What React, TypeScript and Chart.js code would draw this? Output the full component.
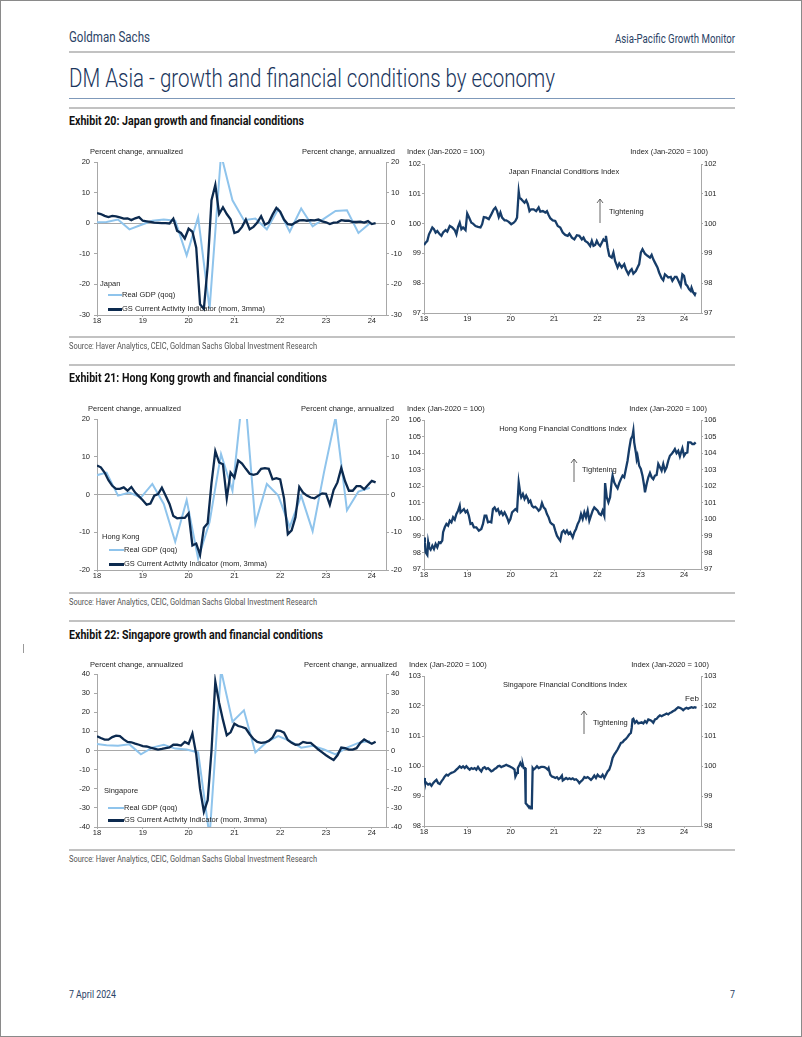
import React, { useEffect, useLayoutEffect, useRef } from "react";
import { Chart, registerables } from "chart.js";

Chart.register(...registerables);

// ---------------- DATA ----------------
const yearTicks = [2018, 2019, 2020, 2021, 2022, 2023, 2024];

// Quarterly real GDP (qoq saar), Q4-2017 .. Q4-2023
const jpGdp = [0.3, 0.4, 1.2, -2.0, -0.6, 0.8, 1.2, 0.8, -10.5, 2.0, -28.0, 22.5, 7.5, 1.0, 1.5, -2.0, 4.6, -2.8, 4.8, -1.0, 1.5, 4.0, 4.2, -3.2, 0.0];
const hkGdp = [5.0, 5.8, -0.3, 0.5, -0.8, 2.8, -2.5, -12.5, -1.5, -17.0, -7.3, 10.7, 1.0, 30.0, -7.7, 2.8, -0.3, -8.6, -0.3, -9.7, 6.0, 20.4, -4.2, 0.8, 1.8];
const sgGdp = [3.5, 2.8, 2.5, 3.2, -2.0, 1.5, 3.0, 1.0, 0.5, -1.0, -45.0, 42.0, 15.0, 21.0, -1.0, 4.5, 7.5, 5.0, 1.5, 2.5, 0.5, -2.0, 1.5, 4.0, 5.0];

// Monthly GS Current Activity Indicator (mom, 3mma), Jan-2018 .. Feb-2024
const jpCai = [3.3, 3.0, 2.4, 2.0, 2.4, 2.2, 1.9, 1.5, 1.6, 1.0, 1.6, 2.0, 0.8, 0.6, 0.4, 0.2, 0.1, 0.0, 0.0, -0.1, 1.5, -2.5, -3.2, -5.0, -1.8, -2.8, -8.0, -26.5, -28.0, -14.0, 7.5, 12.5, 3.0, 5.2, 3.0, 1.3, -3.2, -2.7, -1.2, 1.2, -2.0, -1.2, 0.2, 2.3, -0.5, 0.2, 2.8, 5.0, 3.8, 1.2, -0.3, -0.5, 0.2, 0.9, 1.0, 0.8, 1.0, 0.9, 1.2, 0.6, 0.3, -0.3, 0.2, 0.3, 1.0, 0.8, 0.8, 0.4, 0.4, 0.5, 0.2, 0.7, -0.3, 0.0];
const hkCai = [7.7, 7.2, 5.8, 3.8, 2.3, 1.5, 1.5, 1.9, 1.0, 2.0, 0.5, -0.5, -1.5, -2.7, -2.4, -0.3, 0.1, 1.8, -0.3, -2.5, -5.7, -6.3, -6.2, -6.2, -5.0, -13.5, -13.0, -16.0, -8.8, -7.6, 3.0, 11.5, 8.5, 8.0, -1.0, 5.8, 4.5, 9.0, 8.2, 6.8, 5.5, 5.2, 5.5, 6.8, 7.0, 6.8, 4.0, 4.3, 4.0, -1.0, -10.5, -9.5, -6.0, 2.0, 0.5, -0.3, -0.8, -1.0, -0.3, 0.3, 0.2, -2.7, 1.2, 3.2, 7.0, 3.5, 1.0, 1.0, 2.2, 2.2, 1.4, 2.5, 3.6, 3.2];
const sgCai = [7.5, 6.5, 5.7, 5.7, 7.0, 7.8, 7.5, 5.8, 4.5, 4.3, 3.6, 3.0, 2.3, 2.1, 1.5, 1.0, 0.5, 0.8, 1.3, 1.6, 3.0, 3.0, 2.6, 4.5, 3.5, 8.9, -2.0, -20.0, -32.0, -26.0, 0.0, 36.0, 25.0, 16.0, 8.0, 9.5, 14.0, 12.8, 12.3, 11.5, 8.5, 6.0, 4.5, 4.0, 4.2, 5.0, 6.8, 10.5, 10.3, 9.3, 5.5, 4.0, 3.0, 3.2, 4.5, 4.0, 4.0, 2.3, 0.5, -1.0, -2.5, -3.8, -5.0, -2.5, 1.5, 1.2, 0.5, 0.5, 1.2, 4.0, 5.8, 4.6, 3.5, 4.6];

// Financial conditions indices: observation week (weeks since 1-Jan-2018) and value
const jpFciWeeks = [0, 2, 4, 6, 8, 10, 12, 14, 16, 19, 21, 23, 26, 28, 31, 34, 37, 39, 41, 43, 45, 47, 50, 52, 54, 57, 59, 62, 65, 68, 70, 72, 75, 78, 81, 84, 86, 88, 90, 92, 94, 97, 99, 102, 105, 108, 110, 112, 114, 115, 117, 119, 121, 123, 125, 127, 129, 132, 135, 138, 140, 143, 146, 148, 150, 152, 155, 158, 161, 164, 167, 170, 173, 175, 178, 181, 184, 187, 190, 192, 194, 197, 200, 202, 204, 206, 208, 210, 212, 214, 216, 218, 219, 221, 223, 226, 228, 230, 233, 235, 238, 241, 243, 246, 248, 250, 252, 255, 257, 259, 261, 263, 266, 269, 272, 274, 276, 278, 281, 283, 286, 288, 290, 292, 294, 297, 299, 302, 304, 306, 309, 311, 313, 315, 317, 319, 321, 322, 324, 326, 327];
const jpFci = [99.28, 99.36, 99.42, 99.64, 99.75, 99.87, 99.81, 99.70, 99.75, 99.64, 99.59, 99.70, 99.78, 99.73, 99.92, 99.87, 99.78, 99.64, 99.89, 100.03, 99.81, 99.87, 99.78, 100.34, 100.22, 100.03, 100.0, 99.92, 99.89, 99.87, 99.98, 100.22, 100.2, 100.15, 100.31, 100.48, 100.54, 100.42, 100.22, 100.37, 100.2, 100.11, 100.11, 100.06, 99.98, 100.03, 100.09, 100.2, 101.07, 100.87, 100.82, 100.76, 100.7, 100.78, 100.65, 100.42, 100.48, 100.48, 100.42, 100.54, 100.4, 100.42, 100.37, 100.42, 100.29, 100.18, 100.11, 100.09, 99.92, 99.87, 99.70, 99.62, 99.59, 99.66, 99.53, 99.47, 99.61, 99.59, 99.47, 99.53, 99.42, 99.36, 99.25, 99.42, 99.25, 99.28, 99.42, 99.31, 99.25, 99.36, 99.47, 99.42, 99.59, 99.2, 98.92, 98.86, 99.03, 98.75, 98.53, 98.66, 98.53, 98.64, 98.47, 98.30, 98.41, 98.47, 98.32, 98.41, 98.53, 98.64, 99.03, 99.14, 98.99, 98.92, 98.86, 98.95, 98.8, 98.69, 98.53, 98.36, 98.17, 98.1, 98.3, 98.25, 98.19, 98.21, 98.08, 98.21, 98.21, 98.1, 97.91, 98.3, 98.25, 97.97, 97.91, 97.8, 97.74, 97.85, 97.69, 97.61, 97.69];

const hkFciWeeks = [0, 1, 2, 4, 5, 6, 8, 10, 12, 14, 16, 18, 20, 22, 23, 25, 27, 29, 31, 33, 35, 37, 39, 41, 43, 44, 46, 48, 50, 52, 54, 56, 58, 60, 63, 66, 69, 71, 73, 75, 77, 79, 81, 83, 85, 87, 89, 91, 93, 95, 97, 99, 101, 102, 104, 106, 108, 110, 112, 114, 116, 117, 119, 121, 123, 125, 126, 128, 130, 132, 134, 136, 138, 140, 142, 144, 146, 148, 150, 152, 154, 156, 158, 160, 162, 164, 166, 168, 170, 172, 174, 176, 178, 179, 181, 183, 185, 187, 189, 191, 193, 195, 197, 199, 201, 203, 205, 207, 209, 210, 211, 213, 215, 217, 218, 220, 222, 224, 226, 227, 229, 231, 233, 235, 237, 239, 241, 243, 245, 247, 249, 251, 252, 253, 255, 256, 257, 259, 261, 263, 265, 266, 268, 270, 272, 274, 276, 278, 280, 282, 284, 286, 288, 290, 292, 294, 296, 298, 300, 302, 304, 306, 308, 310, 311, 313, 315, 317, 318, 321, 323, 325, 327];
const hkFci = [98.91, 98.61, 98.0, 97.85, 98.61, 98.31, 98.17, 98.41, 98.21, 98.51, 98.31, 98.61, 98.57, 98.71, 99.22, 99.52, 99.72, 99.62, 99.92, 99.82, 100.12, 99.98, 100.32, 100.52, 100.82, 100.42, 100.52, 100.62, 100.42, 100.52, 100.22, 99.72, 99.76, 99.52, 99.52, 99.32, 99.42, 99.72, 100.22, 100.22, 99.82, 99.86, 99.82, 100.62, 100.72, 100.52, 100.62, 100.32, 100.46, 100.26, 100.42, 100.22, 99.98, 99.82, 100.02, 100.42, 100.52, 100.62, 100.52, 102.23, 101.53, 101.33, 101.53, 101.23, 101.43, 101.23, 101.03, 101.13, 100.82, 100.72, 100.76, 100.66, 100.52, 100.62, 100.99, 100.72, 100.62, 100.32, 100.12, 99.82, 99.72, 99.66, 99.32, 99.01, 98.85, 98.71, 99.22, 99.32, 99.17, 99.32, 99.11, 99.22, 99.01, 98.91, 99.22, 99.42, 99.72, 99.92, 100.32, 100.02, 100.42, 100.12, 100.52, 99.92, 100.22, 100.52, 100.72, 100.62, 100.52, 100.42, 100.32, 100.26, 100.52, 100.22, 102.19, 101.33, 101.03, 101.33, 102.33, 102.64, 102.23, 102.03, 101.87, 102.19, 102.43, 102.64, 102.54, 103.04, 103.54, 104.25, 104.85, 105.05, 105.35, 104.65, 104.04, 103.64, 103.84, 103.24, 103.04, 102.64, 102.03, 101.63, 102.13, 102.54, 102.8, 102.54, 102.43, 102.64, 102.68, 103.34, 103.14, 102.94, 103.34, 102.94, 103.14, 103.54, 103.84, 103.94, 104.08, 104.25, 104.0, 104.14, 103.8, 104.14, 104.29, 103.84, 104.0, 104.04, 104.65, 104.65, 104.55, 104.55, 104.65];

const sgFciWeeks = [0, 1, 3, 5, 7, 9, 11, 13, 15, 17, 19, 21, 23, 25, 27, 29, 31, 33, 35, 37, 39, 41, 43, 45, 47, 49, 51, 53, 55, 57, 59, 61, 63, 65, 67, 69, 71, 73, 75, 77, 79, 81, 83, 85, 87, 89, 91, 93, 95, 97, 99, 101, 103, 105, 107, 109, 110, 112, 113, 115, 116, 118, 119, 120, 121.6, 122.4, 124, 125, 127, 128, 129, 129.8, 130.8, 132, 134, 136, 138, 141, 143, 145, 147, 149, 150, 152, 154, 156, 158, 160, 162, 164, 166, 167, 169, 171, 173, 175, 177, 179, 181, 183, 185, 187, 189, 191, 193, 195, 197, 199, 201, 203, 205, 207, 209, 211, 213, 215, 217, 219, 221, 223, 225, 227, 229, 231, 233, 235, 237, 239, 241, 243, 245, 247, 249, 250, 251, 252, 254, 256, 258, 260, 262, 264, 266, 268, 270, 272, 274, 276, 278, 280, 282, 284, 286, 288, 290, 292, 294, 296, 298, 300, 302, 304, 306, 308, 310, 312, 314, 316, 318, 320, 322, 324, 326, 328];
const sgFci = [99.6, 99.49, 99.43, 99.38, 99.41, 99.34, 99.43, 99.49, 99.54, 99.43, 99.40, 99.49, 99.56, 99.65, 99.71, 99.68, 99.74, 99.77, 99.79, 99.82, 99.88, 99.93, 99.99, 99.94, 99.99, 99.93, 99.99, 99.93, 99.88, 99.93, 99.9, 99.93, 99.88, 99.97, 99.88, 99.82, 99.93, 99.96, 99.9, 99.93, 99.88, 99.82, 99.85, 99.9, 99.93, 99.99, 100.01, 99.96, 99.99, 100.01, 100.04, 100.01, 99.99, 99.96, 99.93, 99.88, 99.65, 99.77, 99.93, 100.04, 100.1, 99.99, 100.04, 99.93, 99.93, 98.76, 98.71, 98.67, 98.65, 98.59, 98.59, 98.65, 99.93, 99.88, 99.93, 99.99, 99.93, 99.97, 99.97, 99.96, 99.93, 99.88, 99.93, 99.71, 99.65, 99.63, 99.6, 99.63, 99.56, 99.6, 99.68, 99.52, 99.56, 99.6, 99.56, 99.59, 99.56, 99.59, 99.54, 99.56, 99.51, 99.43, 99.49, 99.54, 99.63, 99.6, 99.63, 99.59, 99.54, 99.6, 99.68, 99.6, 99.71, 99.65, 99.63, 99.71, 99.6, 99.71, 99.82, 99.88, 100.04, 100.27, 100.38, 100.46, 100.55, 100.66, 100.77, 100.79, 100.86, 100.9, 100.97, 101.05, 101.1, 101.27, 101.55, 101.57, 101.44, 101.5, 101.42, 101.44, 101.46, 101.42, 101.5, 101.44, 101.55, 101.53, 101.5, 101.44, 101.55, 101.57, 101.64, 101.69, 101.66, 101.69, 101.72, 101.75, 101.72, 101.77, 101.79, 101.83, 101.86, 101.91, 101.96, 101.94, 101.91, 101.86, 101.91, 101.94, 101.91, 101.94, 101.96, 101.94, 101.96, 101.94];

// ---------------- STYLE ----------------
const ARIAL = '"Liberation Sans", Arial, Helvetica, sans-serif';
const COND = 'Roboto, "Liberation Sans", sans-serif';
const AXIS = "#a8a8a8";
const TICK_TXT = "#1e1e1e";
const GDP_COLOR = "#8fc4ec";
const CAI_COLOR = "#0c2a4f";
const FCI_COLOR = "#173d69";

const quarterDates = (n: number) => Array.from({ length: n }, (_, k) => 2017.958 + k * 0.25);
const monthDates = (n: number) => Array.from({ length: n }, (_, m) => 2018 + m / 12);
const weekDates = (w: number[]) => w.map((v) => 2018 + (v * 7) / 365.25);
const pts = (xs: number[], ys: number[]) => ys.slice(0, xs.length).map((y, i) => ({ x: xs[i], y }));

type Series = { data: { x: number; y: number }[]; color: string; width: number };

type PlotProps = {
  left: number; top: number; width: number; height: number;
  padTop: number; yLeftW: number; yRightW: number; xH: number;
  xMax: number; yMin: number; yMax: number; yStep: number;
  zero: boolean; yTickLen: number; yLeftPad: number; yRightPad: number;
  series: Series[];
};

function Plot(p: PlotProps) {
  const ref = useRef<HTMLCanvasElement>(null);
  useEffect(() => {
    const font = { family: ARIAL, size: 7.5, lineHeight: 1 };
    const yAxis = (pos: "left" | "right") => ({
      type: "linear" as const,
      position: pos,
      min: p.yMin,
      max: p.yMax,
      ticks: { stepSize: p.yStep, font, color: TICK_TXT, padding: pos === "left" ? p.yLeftPad : p.yRightPad },
      grid: {
        drawOnChartArea: pos === "left" && p.zero,
        drawTicks: true,
        tickLength: p.yTickLen,
        tickColor: AXIS,
        color: (c: any) => (c.tick && c.tick.value === 0 ? AXIS : "rgba(0,0,0,0)"),
        lineWidth: 1,
      },
      border: { display: true, color: AXIS, width: 1 },
      afterFit: (s: any) => { s.width = pos === "left" ? p.yLeftW : p.yRightW; },
    });
    const chart = new Chart(ref.current as HTMLCanvasElement, {
      type: "line",
      data: {
        datasets: p.series.map((s) => ({
          data: s.data,
          borderColor: s.color,
          borderWidth: s.width,
          pointRadius: 0,
          tension: 0,
          fill: false,
        })),
      },
      options: {
        animation: false,
        responsive: false,
        maintainAspectRatio: false,
        events: [],
        layout: { padding: { top: p.padTop, left: 0, right: 0, bottom: 0 } },
        plugins: { legend: { display: false }, tooltip: { enabled: false }, title: { display: false } },
        scales: {
          x: {
            type: "linear",
            min: 2018,
            max: p.xMax,
            afterBuildTicks: (s: any) => { s.ticks = yearTicks.map((v) => ({ value: v })); },
            ticks: { autoSkip: false, maxRotation: 0, padding: 0, font, color: TICK_TXT, callback: (v: any) => String(Number(v) - 2000) },
            grid: { drawOnChartArea: false, drawTicks: true, tickLength: 2, color: AXIS },
            border: { display: true, color: AXIS, width: 1 },
            afterFit: (s: any) => { s.height = p.xH; },
          },
          y: yAxis("left"),
          y2: yAxis("right"),
        },
      } as any,
    });
    return () => chart.destroy();
  }, []);
  return (
    <canvas
      ref={ref}
      width={p.width}
      height={p.height}
      style={{ position: "absolute", left: p.left, top: p.top, width: p.width, height: p.height, display: "block" }}
    />
  );
}

function T(props: { x: number; y: number; children: React.ReactNode; size?: number; align?: "left" | "right" | "center"; color?: string; weight?: number; family?: string }) {
  const { x, y, size = 7.5, align = "left", color = TICK_TXT, weight = 400, family = ARIAL } = props;
  const tx = align === "left" ? "0" : align === "right" ? "-100%" : "-50%";
  return (
    <div style={{ position: "absolute", left: x, top: y, transform: `translate(${tx}, -50%)`, fontSize: size, lineHeight: 1, whiteSpace: "nowrap", color, fontWeight: weight, fontFamily: family }}>
      {props.children}
    </div>
  );
}

// Condensed text: squeezed horizontally so that it spans width w
function CT(props: { x: number; y: number; w: number; children: React.ReactNode; size: number; right?: boolean; color?: string; weight?: number }) {
  const ref = useRef<HTMLDivElement>(null);
  useLayoutEffect(() => {
    const el = ref.current;
    if (!el) return;
    el.style.transform = "translateY(-50%)";
    const nat = el.getBoundingClientRect().width;
    if (nat > 0) el.style.transform = `translateY(-50%) scaleX(${props.w / nat})`;
  }, []);
  return (
    <div
      ref={ref}
      style={{ position: "absolute", left: props.right ? props.x - props.w : props.x, top: props.y, transformOrigin: "0 50%", fontSize: props.size, lineHeight: 1, whiteSpace: "nowrap", color: props.color || "#111", fontWeight: props.weight || 400, fontFamily: COND }}
    >
      {props.children}
    </div>
  );
}

function HLine(props: { y: number; h?: number; color?: string }) {
  return <div style={{ position: "absolute", left: 68, width: 666, top: props.y, height: props.h || 2, background: props.color || "#c2c2c2" }} />;
}

function Swatch(props: { x: number; y: number; w: number; h: number; color: string }) {
  return <div style={{ position: "absolute", left: props.x, top: props.y - props.h / 2, width: props.w, height: props.h, background: props.color }} />;
}

function Arrow(props: { x: number; y1: number; y2: number }) {
  const { x, y1, y2 } = props;
  return (
    <svg style={{ position: "absolute", left: x - 5, top: y2 - 1, overflow: "visible" }} width={10} height={y1 - y2 + 2}>
      <line x1={5} y1={1} x2={5} y2={y1 - y2 + 1} stroke="#555" strokeWidth={0.9} />
      <polyline points={`2,5 5,1 8,5`} fill="none" stroke="#555" strokeWidth={0.9} />
    </svg>
  );
}

function GrowthChart(props: { top: number; bottom: number; yMin: number; yMax: number; gdp: number[]; cai: number[] }) {
  const canvasTop = props.top - 8;
  return (
    <Plot
      left={56} top={canvasTop} width={352} height={props.bottom + 12 - canvasTop}
      padTop={8} yLeftW={40} yRightW={23} xH={12}
      xMax={2024.31} yMin={props.yMin} yMax={props.yMax} yStep={10}
      zero={true} yTickLen={3} yLeftPad={4} yRightPad={2}
      series={[
        { data: pts(monthDates(props.cai.length), props.cai), color: CAI_COLOR, width: 2.3 },
        { data: pts(quarterDates(props.gdp.length), props.gdp), color: GDP_COLOR, width: 2 },
      ]}
    />
  );
}

function FciChart(props: { top: number; bottom: number; yMin: number; yMax: number; weeks: number[]; vals: number[] }) {
  const canvasTop = props.top - 8;
  return (
    <Plot
      left={392} top={canvasTop} width={328} height={props.bottom + 12 - canvasTop}
      padTop={8} yLeftW={31} yRightW={20} xH={12}
      xMax={2024.39} yMin={props.yMin} yMax={props.yMax} yStep={1}
      zero={false} yTickLen={2} yLeftPad={1} yRightPad={1}
      series={[{ data: pts(weekDates(props.weeks), props.vals), color: FCI_COLOR, width: 2.3 }]}
    />
  );
}

function Legend(props: { x: number; name: string; y0: number; y1: number; y2: number; sw: [number, number] }) {
  const [sx, ex] = props.sw;
  return (
    <>
      <T x={props.x} y={props.y0}>{props.name}</T>
      <Swatch x={sx} y={props.y1} w={ex - sx} h={2} color={GDP_COLOR} />
      <T x={ex} y={props.y1}>Real GDP (qoq)</T>
      <Swatch x={sx} y={props.y2} w={ex - sx} h={3} color={CAI_COLOR} />
      <T x={ex} y={props.y2}>GS Current Activity Indicator (mom, 3mma)</T>
    </>
  );
}

export default function App() {
  const SOURCE = "Source: Haver Analytics, CEIC, Goldman Sachs Global Investment Research";
  const NAVY = "#2b4366";
  return (
    <div style={{ position: "absolute", left: 0, top: 0, width: 802, height: 1037, boxSizing: "border-box", border: "1px solid #8a8a8a", background: "#fff", overflow: "hidden", fontFamily: ARIAL }}>
      {/* header */}
      <CT x={68} y={36} w={81} size={14} color={NAVY}>Goldman Sachs</CT>
      <CT x={734} y={38} w={120} size={12} color={NAVY} right>Asia-Pacific Growth Monitor</CT>
      <HLine y={50} />
      <CT x={68} y={77} w={486} size={25} color="#1b365d" weight={300}>DM Asia - growth and financial conditions by economy</CT>
      <HLine y={97} h={1} color="#7f99ba" />
      <HLine y={106} />
      <div style={{ position: "absolute", left: 22, top: 643, width: 1, height: 9, background: "#9a9a9a" }} />

      {/* Exhibit 20: Japan */}
      <CT x={68} y={120} w={235} size={12.5} weight={700}>Exhibit 20: Japan growth and financial conditions</CT>
      <GrowthChart top={161} bottom={314} yMin={-30} yMax={20} gdp={jpGdp} cai={jpCai} />
      <FciChart top={163} bottom={312} yMin={97} yMax={102} weeks={jpFciWeeks} vals={jpFci} />
      <T x={89} y={151}>Percent change, annualized</T>
      <T x={394} y={151} align="right">Percent change, annualized</T>
      <T x={406} y={151}>Index (Jan-2020 = 100)</T>
      <T x={707} y={151} align="right">Index (Jan-2020 = 100)</T>
      <T x={563} y={171} align="center">Japan Financial Conditions Index</T>
      <Arrow x={599} y1={222} y2={198} />
      <T x={608} y={211}>Tightening</T>
      <Legend x={99} name="Japan" y0={283} y1={294} y2={308} sw={[107, 121]} />
      <HLine y={335} />
      <CT x={68} y={345} w={248} size={9} color="#555">{SOURCE}</CT>
      <HLine y={363} />

      {/* Exhibit 21: Hong Kong */}
      <CT x={68} y={377} w={258} size={12.5} weight={700}>Exhibit 21: Hong Kong growth and financial conditions</CT>
      <GrowthChart top={418} bottom={569} yMin={-20} yMax={20} gdp={hkGdp} cai={hkCai} />
      <FciChart top={419} bottom={568} yMin={97} yMax={106} weeks={hkFciWeeks} vals={hkFci} />
      <T x={87} y={408}>Percent change, annualized</T>
      <T x={393} y={408} align="right">Percent change, annualized</T>
      <T x={406} y={408}>Index (Jan-2020 = 100)</T>
      <T x={706} y={408} align="right">Index (Jan-2020 = 100)</T>
      <T x={562} y={428} align="center">Hong Kong Financial Conditions Index</T>
      <Arrow x={573} y1={481} y2={458} />
      <T x={581} y={469}>Tightening</T>
      <Legend x={101} name="Hong Kong" y0={536} y1={549} y2={563} sw={[108, 123]} />
      <HLine y={591} />
      <CT x={68} y={601} w={248} size={9} color="#555">{SOURCE}</CT>
      <HLine y={619} />

      {/* Exhibit 22: Singapore */}
      <CT x={68} y={634} w={254} size={12.5} weight={700}>Exhibit 22: Singapore growth and financial conditions</CT>
      <GrowthChart top={673} bottom={826} yMin={-40} yMax={40} gdp={sgGdp} cai={sgCai} />
      <FciChart top={675} bottom={825} yMin={98} yMax={103} weeks={sgFciWeeks} vals={sgFci} />
      <T x={89} y={664}>Percent change, annualized</T>
      <T x={396} y={664} align="right">Percent change, annualized</T>
      <T x={408} y={664}>Index (Jan-2020 = 100)</T>
      <T x={708} y={664} align="right">Index (Jan-2020 = 100)</T>
      <T x={564} y={684} align="center">Singapore Financial Conditions Index</T>
      <T x={691} y={698} align="center" size={8}>Feb</T>
      <Arrow x={583} y1={733} y2={710} />
      <T x={592} y={722}>Tightening</T>
      <Legend x={103} name="Singapore" y0={790} y1={807} y2={819} sw={[107, 123]} />
      <HLine y={848} />
      <CT x={68} y={858} w={248} size={9} color="#555">{SOURCE}</CT>

      {/* footer */}
      <CT x={68} y={994} w={47} size={11.5} color={NAVY}>7 April 2024</CT>
      <CT x={734} y={994} w={5} size={11.5} color={NAVY} right>7</CT>
    </div>
  );
}
